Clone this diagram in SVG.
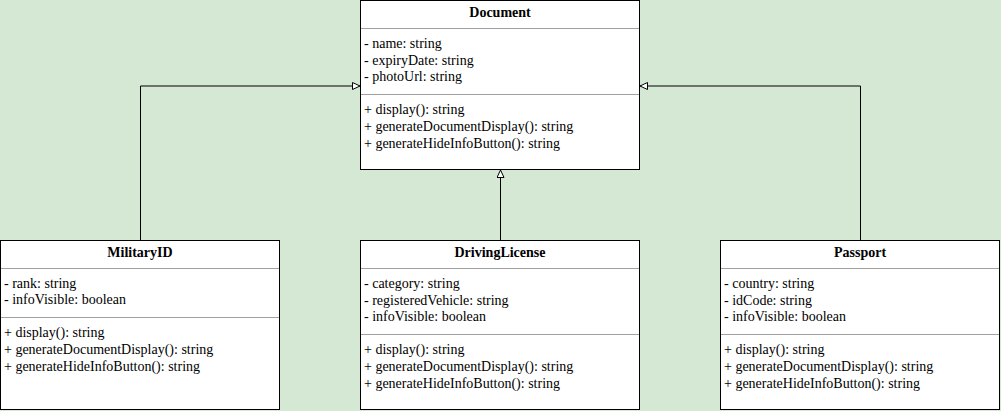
<svg xmlns="http://www.w3.org/2000/svg" width="1001" height="411" viewBox="0 0 1001 411">
<defs>
<style>
.box{fill:#ffffff;stroke:#000000;stroke-width:1}
.sep{stroke:#a0a0a0;stroke-width:1}
.c{fill:none;stroke:#000;stroke-width:1}
.h{font-weight:bold;text-anchor:middle}
</style>
<marker id="inh" markerWidth="10" markerHeight="10" refX="8" refY="4" orient="auto" markerUnits="userSpaceOnUse">
<path d="M0.5,0.5 L8,4 L0.5,7.5 Z" fill="#ffffff" stroke="#000" stroke-width="1"/>
</marker>
</defs>
<rect x="0" y="0" width="1001" height="411" fill="#d5e8d4"/>
<g id="connectors">
<path class="c" d="M140.5,240 V86 H360" marker-end="url(#inh)"/>
<path class="c" d="M860.5,240 V86 H640" marker-end="url(#inh)"/>
<path class="c" d="M500.5,240 V170" marker-end="url(#inh)"/>
</g>
<g font-family="Liberation Serif, Times New Roman, serif" font-size="14" fill="#000">
<g id="Document">
<rect class="box" x="360.5" y="0.5" width="279" height="169"/>
<line class="sep" x1="361" y1="28.5" x2="639" y2="28.5"/>
<line class="sep" x1="361" y1="94.5" x2="639" y2="94.5"/>
<text class="h" x="500" y="17">Document</text>
<text x="364" y="48">- name: string</text>
<text x="364" y="65">- expiryDate: string</text>
<text x="364" y="81">- photoUrl: string</text>
<text x="364" y="114">+ display(): string</text>
<text x="364" y="131">+ generateDocumentDisplay(): string</text>
<text x="364" y="148">+ generateHideInfoButton(): string</text>
</g>
<g id="MilitaryID">
<rect class="box" x="0.5" y="240.5" width="279" height="169"/>
<line class="sep" x1="1" y1="268.5" x2="279" y2="268.5"/>
<line class="sep" x1="1" y1="317.5" x2="279" y2="317.5"/>
<text class="h" x="140" y="257">MilitaryID</text>
<text x="4" y="288">- rank: string</text>
<text x="4" y="304">- infoVisible: boolean</text>
<text x="4" y="337">+ display(): string</text>
<text x="4" y="354">+ generateDocumentDisplay(): string</text>
<text x="4" y="371">+ generateHideInfoButton(): string</text>
</g>
<g id="DrivingLicense">
<rect class="box" x="360.5" y="240.5" width="279" height="169"/>
<line class="sep" x1="361" y1="268.5" x2="639" y2="268.5"/>
<line class="sep" x1="361" y1="334.5" x2="639" y2="334.5"/>
<text class="h" x="500" y="257">DrivingLicense</text>
<text x="364" y="288">- category: string</text>
<text x="364" y="305">- registeredVehicle: string</text>
<text x="364" y="321">- infoVisible: boolean</text>
<text x="364" y="354">+ display(): string</text>
<text x="364" y="371">+ generateDocumentDisplay(): string</text>
<text x="364" y="388">+ generateHideInfoButton(): string</text>
</g>
<g id="Passport">
<rect class="box" x="720.5" y="240.5" width="279" height="169"/>
<line class="sep" x1="721" y1="268.5" x2="999" y2="268.5"/>
<line class="sep" x1="721" y1="334.5" x2="999" y2="334.5"/>
<text class="h" x="860" y="257">Passport</text>
<text x="724" y="288">- country: string</text>
<text x="724" y="305">- idCode: string</text>
<text x="724" y="321">- infoVisible: boolean</text>
<text x="724" y="354">+ display(): string</text>
<text x="724" y="371">+ generateDocumentDisplay(): string</text>
<text x="724" y="388">+ generateHideInfoButton(): string</text>
</g>
</g>
</svg>
